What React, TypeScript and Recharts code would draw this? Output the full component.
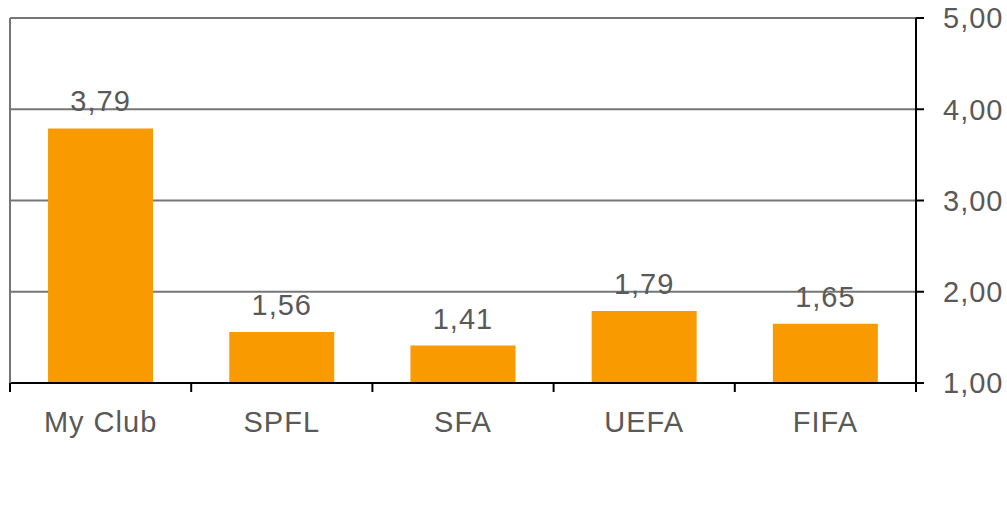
import { BarChart, Bar, XAxis, YAxis, CartesianGrid, LabelList } from 'recharts'

const categories = ['My Club', 'SPFL', 'SFA', 'UEFA', 'FIFA']
const values = [3.79, 1.56, 1.41, 1.79, 1.65]
const yTicks = [1, 2, 3, 4, 5]

const data = categories.map((name, i) => ({ name, value: values[i] }))

const fmt = (v: number) => v.toFixed(2).replace('.', ',')

const textStyle = {
  fontFamily: '"Liberation Sans", Arial, sans-serif',
  fontSize: 29,
  fill: '#595959',
  letterSpacing: 1,
}

const LABEL_GAP = 28
const TICK_LEN = 9

// category label plus the little tick marks that sit between categories
const CategoryTick = (props: any) => {
  const { x, y, payload, index, visibleTicksCount } = props
  const half = payload?.offset ?? 0
  const axisY = y - LABEL_GAP
  const last = index === visibleTicksCount - 1
  return (
    <g>
      <line x1={x - half} x2={x - half} y1={axisY} y2={axisY + TICK_LEN} stroke="#000" strokeWidth={2} />
      {last && (
        <line x1={x + half} x2={x + half} y1={axisY} y2={axisY + TICK_LEN} stroke="#000" strokeWidth={2} />
      )}
      <text x={x} y={y} dy="0.71em" textAnchor="middle" style={textStyle}>
        {payload.value}
      </text>
    </g>
  )
}

export default function App() {
  return (
    <div style={{ position: 'absolute', left: 0, top: 0, background: '#fff' }}>
      <BarChart
        width={1007}
        height={516}
        data={data}
        margin={{ top: 18, right: 0, left: 9, bottom: 0 }}
        barCategoryGap="21%"
      >
        <CartesianGrid horizontal vertical={false} stroke="#767676" strokeWidth={2} />
        <XAxis
          dataKey="name"
          height={133}
          axisLine={{ stroke: '#000', strokeWidth: 2 }}
          tickLine={false}
          tickSize={0}
          tickMargin={LABEL_GAP}
          tick={<CategoryTick />}
          interval={0}
        />
        <YAxis
          yAxisId="left"
          orientation="left"
          width={1}
          domain={[1, 5]}
          ticks={yTicks}
          tick={false}
          tickLine={false}
          axisLine={{ stroke: '#767676', strokeWidth: 2 }}
        />
        <YAxis
          orientation="right"
          width={91}
          domain={[1, 5]}
          ticks={yTicks}
          tickFormatter={fmt}
          axisLine={{ stroke: '#000', strokeWidth: 2 }}
          tickLine={{ stroke: '#000', strokeWidth: 2 }}
          tickSize={8}
          tickMargin={19}
          tick={textStyle}
        />
        <Bar dataKey="value" fill="#F99A00" isAnimationActive={false}>
          <LabelList
            dataKey="value"
            position="top"
            offset={17}
            formatter={(v: any) => fmt(Number(v))}
            style={textStyle}
          />
        </Bar>
      </BarChart>
    </div>
  )
}
